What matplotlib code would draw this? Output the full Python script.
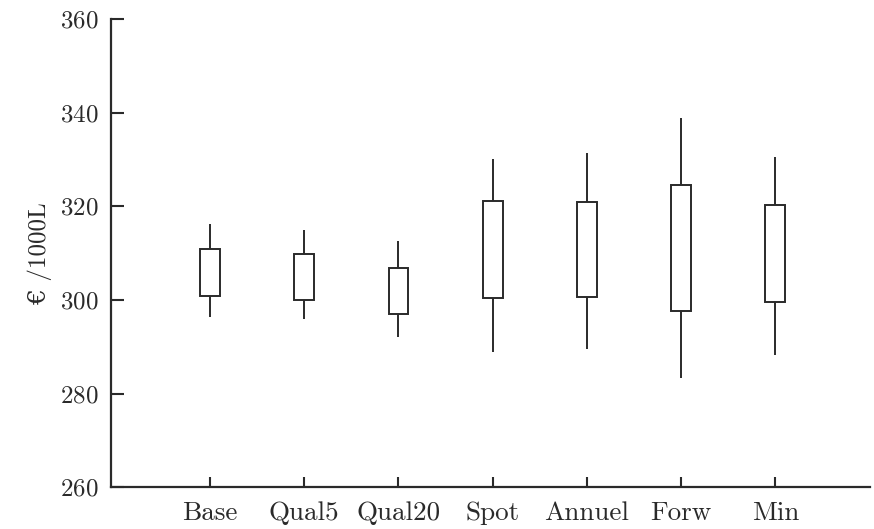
import numpy as np
import matplotlib
matplotlib.use('Agg')
import matplotlib.pyplot as plt

# summary values (euro per 1000 L)
categories = ['Base', 'Qual5', 'Qual20', 'Spot', 'Annuel', 'Forw', 'Min']
whisker_low = [296.3, 295.9, 292.1, 288.8, 289.5, 283.3, 288.2]
box_low = [300.8, 300.0, 297.0, 300.4, 300.6, 297.6, 299.5]
box_high = [310.9, 309.8, 306.8, 321.1, 320.9, 324.5, 320.3]
whisker_high = [316.2, 314.9, 312.6, 330.1, 331.4, 338.8, 330.5]
y_ticks = [260, 280, 300, 320, 340, 360]

plt.rcParams['font.family'] = ['cmr10', 'DejaVu Serif']
plt.rcParams['axes.formatter.use_mathtext'] = True

fig = plt.figure(figsize=(8.74, 5.29), dpi=100)
ax = fig.add_axes([0.127, 0.079, 0.868, 0.885])

x = np.arange(1, len(categories) + 1)
low = np.array(box_low)
high = np.array(box_high)
col = '#2a2a2a'

# whiskers
ax.vlines(x, whisker_low, low, color=col, linewidth=1.4)
ax.vlines(x, high, whisker_high, color=col, linewidth=1.4)
# boxes
ax.bar(x, high - low, bottom=low, width=0.21, fill=False,
       edgecolor=col, linewidth=1.4)

ax.set_xlim(-0.05, 8.0)
ax.set_ylim(260, 360)
ax.set_xticks(x)
ax.set_xticklabels(categories)
ax.set_yticks(y_ticks)

for side in ['top', 'right']:
    ax.spines[side].set_visible(False)
for side in ['left', 'bottom']:
    ax.spines[side].set_linewidth(1.6)
    ax.spines[side].set_color(col)

ax.tick_params(axis='y', direction='in', length=9, width=1.5, pad=9,
               labelsize=18, colors=col)
ax.tick_params(axis='x', direction='in', length=7, width=1.5, pad=10,
               labelsize=19.5, colors=col)

ax.set_ylabel('€ /1000L', fontsize=18, color=col, labelpad=6)

fig.savefig('out.png', dpi=100)
